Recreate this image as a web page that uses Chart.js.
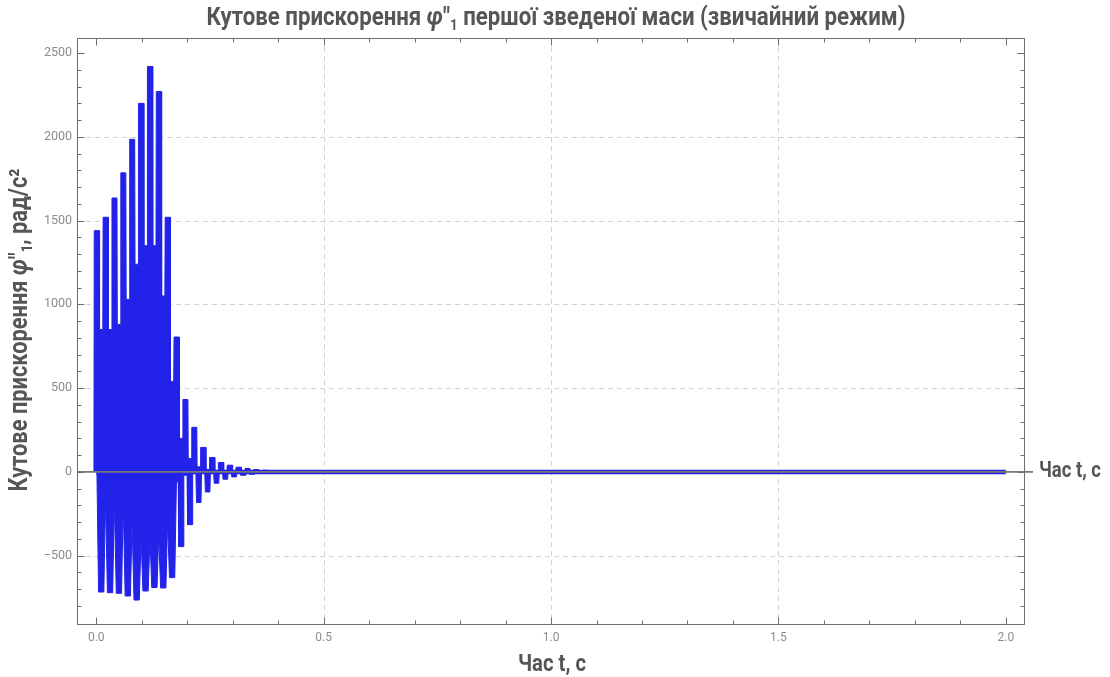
<!DOCTYPE html>
<html><head><meta charset="utf-8">
<script src="https://cdn.jsdelivr.net/npm/chart.js@4/dist/chart.umd.min.js"></script>
<style>html,body{margin:0;padding:0;background:#fff;}canvas{display:block;}</style>
</head><body>
<canvas id="c" width="1110" height="677"></canvas>
<script>
// ---- data ----
// upward bars (local maxima of the band), time in s, value in rad/s^2
const peakT = [0.001, 0.0205, 0.040, 0.0595, 0.079, 0.0985, 0.118, 0.1375, 0.157, 0.1765, 0.196, 0.2155, 0.235, 0.2545, 0.274, 0.2935, 0.313, 0.3325, 0.352, 0.3715, 0.391, 0.4105, 0.430];
const peakV = [1440, 1520, 1635, 1785, 1985, 2200, 2420, 2270, 1520, 805, 432, 266, 146, 86, 56, 40, 28, 20, 14, 10, 7, 5, 3];
// level where the white gap between neighbouring upward bars ends
const upperGapV = [850, 850, 880, 1030, 1240, 1350, 1350, 1050, 540, 200, 80, 30, 15, 8, 5, 3, 2, 1, 1, 0, 0, 0];
// downward bars (local minima of the band)
const troughT = [0.0108, 0.0303, 0.0498, 0.0693, 0.0888, 0.1083, 0.1278, 0.1473, 0.1668, 0.1863, 0.2058, 0.2253, 0.2448, 0.2643, 0.2838, 0.3033, 0.3228, 0.3423, 0.3618, 0.3813, 0.4008, 0.4203, 0.4398];
const troughV = [-717, -721, -725, -741, -765, -711, -690, -693, -631, -446, -315, -183, -120, -68, -44, -30, -20, -14, -10, -7, -5, -3, -2];
// level where the white gap between neighbouring downward bars ends
const lowerGapV = [-160, -170, -180, -300, -420, -420, -380, -300, -60, -20, -10, -5, -3, -2, -1, -1, 0, 0, 0, 0, 0, 0];
// settled part of the signal
const settledT = [0.0, 2.0];
const settledV = [0, 0];

// ticks
const xMajorTicks = [0, 0.5, 1.0, 1.5, 2.0];
const xTickLabels = ['0.0', '0.5', '1.0', '1.5', '2.0'];
const xMinorTicks = [0.1, 0.2, 0.3, 0.4, 0.6, 0.7, 0.8, 0.9, 1.1, 1.2, 1.3, 1.4, 1.6, 1.7, 1.8, 1.9];
const yMajorTicks = [-500, 0, 500, 1000, 1500, 2000, 2500];
const yTickLabels = ['\u2212500', '0', '500', '1000', '1500', '2000', '2500'];
const yMinorTicks = [-800, -700, -600, -400, -300, -200, -100, 100, 200, 300, 400, 600, 700, 800, 900, 1100, 1200, 1300, 1400, 1600, 1700, 1800, 1900, 2100, 2200, 2300, 2400];
const xGridLines = [0.5, 1.0, 1.5];
const yGridLines = [-500, 500, 1000, 1500, 2000];

const titleText = 'Кутове прискорення φ"₁ першої зведеної маси (звичайний режим)';
const yTitleText = 'Кутове прискорення φ"₁, рад/с²';
const xTitleText = 'Час t, с';

// ---- styling ----
const BLUE = '#2222e8';
const TEXT = '#565656';
const FRAME = '#6f6f6f';
const UT = 0.0055, UB = 0.0062;   // half widths of upward bars (top / base)
const LB = 0.0058, LT = 0.0094;   // half widths of downward bars (bottom / top)
const LOBE = 0.0062;              // half width of the small decaying lobes
const CONDENSE = 0.86;            // horizontal squeeze of the bold labels

function buildUpper() {
  const pts = [];
  const n = peakT.length;
  for (let k = 0; k < n; k++) {
    const gl = k === 0 ? 0 : upperGapV[k - 1];
    const gr = k === n - 1 ? 0 : upperGapV[k];
    pts.push({x: peakT[k] - UB, y: gl}, {x: peakT[k] - UT, y: peakV[k]},
             {x: peakT[k] + UT, y: peakV[k]}, {x: peakT[k] + UB, y: gr});
  }
  return pts;
}
function buildLower() {
  const pts = [];
  const n = troughT.length;
  for (let k = 0; k < n; k++) {
    const gl = k === 0 ? 0 : lowerGapV[k - 1];
    const gr = k === n - 1 ? 0 : lowerGapV[k];
    const top = troughV[k] < -500 ? LT : LOBE;
    const bot = troughV[k] < -500 ? LB : LOBE * 0.8;
    pts.push({x: troughT[k] - top, y: gl}, {x: troughT[k] - bot, y: troughV[k]},
             {x: troughT[k] + bot, y: troughV[k]}, {x: troughT[k] + top, y: gr});
  }
  return pts;
}

function splitRich(text) {
  const i = text.indexOf('φ');
  return [{t: text.slice(0, i), s: 'bold', k: 1, dy: 0},
          {t: 'φ', s: 'italic bold', k: 1, dy: 0},
          {t: '"', s: 'bold', k: 1, dy: 0},
          {t: '1', s: 'bold', k: 0.6, dy: 0.28},
          {t: text.slice(i + 3), s: 'bold', k: 1, dy: 0}];
}
function richWidth(ctx, segs, size) {
  let w = 0;
  segs.forEach(g => { ctx.font = g.s + ' ' + (size * g.k) + 'px Roboto'; w += ctx.measureText(g.t).width; });
  return w;
}
function drawRich(ctx, segs, cx, cy, targetW, rot, align) {
  const size = 20 * targetW / (richWidth(ctx, segs, 20) * CONDENSE);
  const w = richWidth(ctx, segs, size);
  ctx.save();
  ctx.translate(cx, cy);
  if (rot) ctx.rotate(rot);
  ctx.scale(CONDENSE, 1);
  ctx.fillStyle = TEXT;
  ctx.textBaseline = 'middle';
  ctx.textAlign = 'left';
  let xx = align === 'left' ? 0 : -w / 2;
  segs.forEach(g => {
    ctx.font = g.s + ' ' + (size * g.k) + 'px Roboto';
    ctx.fillText(g.t, xx, g.dy * size);
    xx += ctx.measureText(g.t).width;
  });
  ctx.restore();
}

const framePlugin = {
  id: 'frame',
  beforeDatasetsDraw(chart) {
    const {ctx, chartArea: a, scales: {x, y}} = chart;
    ctx.save();
    ctx.strokeStyle = '#d2d2d2';
    ctx.lineWidth = 1;
    ctx.setLineDash([5, 4]);
    xGridLines.forEach(v => {
      const px = Math.round(x.getPixelForValue(v)) + 0.5;
      ctx.beginPath(); ctx.moveTo(px, a.top); ctx.lineTo(px, a.bottom); ctx.stroke();
    });
    yGridLines.forEach(v => {
      const py = Math.round(y.getPixelForValue(v)) + 0.5;
      ctx.beginPath(); ctx.moveTo(a.left, py); ctx.lineTo(a.right, py); ctx.stroke();
    });
    ctx.restore();
  },
  afterDatasetsDraw(chart) {
    const {ctx, chartArea: a, scales: {x, y}} = chart;
    ctx.save();
    // zero axis
    const y0 = y.getPixelForValue(0);
    ctx.strokeStyle = '#777777';
    ctx.lineWidth = 1.6;
    ctx.beginPath(); ctx.moveTo(a.left, y0); ctx.lineTo(a.right + 9, y0); ctx.stroke();
    // frame
    ctx.strokeStyle = FRAME;
    ctx.lineWidth = 1;
    const L = Math.round(a.left) + 0.5, R = Math.round(a.right) + 0.5;
    const T = Math.round(a.top) + 0.5, B = Math.round(a.bottom) + 0.5;
    ctx.strokeRect(L, T, R - L, B - T);
    // ticks (inward, all four sides)
    const tick = (vals, len) => {
      vals.forEach(v => {
        const px = Math.round(x.getPixelForValue(v)) + 0.5;
        ctx.beginPath(); ctx.moveTo(px, B); ctx.lineTo(px, B - len); ctx.stroke();
        ctx.beginPath(); ctx.moveTo(px, T); ctx.lineTo(px, T + len); ctx.stroke();
      });
    };
    const ytick = (vals, len) => {
      vals.forEach(v => {
        const py = Math.round(y.getPixelForValue(v)) + 0.5;
        ctx.beginPath(); ctx.moveTo(L, py); ctx.lineTo(L + len, py); ctx.stroke();
        ctx.beginPath(); ctx.moveTo(R, py); ctx.lineTo(R - len, py); ctx.stroke();
      });
    };
    tick(xMajorTicks, 7); tick(xMinorTicks, 4);
    ytick(yMajorTicks, 7); ytick(yMinorTicks, 4);
    ctx.restore();
    // texts
    drawRich(ctx, splitRich(titleText), 556, 19, 699, 0);
    drawRich(ctx, splitRich(yTitleText), 21, 330, 323, -Math.PI / 2);
    drawRich(ctx, [{t: xTitleText, s: 'bold', k: 1, dy: 0}], 552, 665, 68, 0);
    drawRich(ctx, [{t: xTitleText, s: 'bold', k: 1, dy: 0}], 1039, y0, 62, 0, 'left');
  }
};

new Chart(document.getElementById('c'), {
  type: 'line',
  data: {
    datasets: [
      {data: buildUpper(), fill: 'origin', backgroundColor: BLUE, borderColor: BLUE, borderWidth: 1, pointRadius: 0, tension: 0},
      {data: buildLower(), fill: 'origin', backgroundColor: BLUE, borderColor: BLUE, borderWidth: 1, pointRadius: 0, tension: 0},
      {data: settledT.map((t, i) => ({x: t, y: settledV[i]})), fill: false, borderColor: BLUE, borderWidth: 4.5, pointRadius: 0, borderCapStyle: 'butt'}
    ]
  },
  options: {
    responsive: false,
    animation: false,
    devicePixelRatio: 1,
    layout: {padding: {top: 38, right: 86, bottom: 0, left: 0}},
    plugins: {legend: {display: false}, tooltip: {enabled: false}, title: {display: false}},
    scales: {
      x: {
        type: 'linear', min: -0.0424, max: 2.040,
        grid: {display: false, drawTicks: false}, border: {display: false},
        afterBuildTicks: s => { s.ticks = xMajorTicks.map(v => ({value: v})); },
        afterFit: s => { s.height = 53; },
        ticks: {padding: 7, color: '#8c8c8c', font: {family: 'Roboto', size: 12},
                maxRotation: 0, autoSkip: false,
                callback: (v) => xTickLabels[xMajorTicks.indexOf(v)]}
      },
      y: {
        type: 'linear', min: -908, max: 2590,
        grid: {display: false, drawTicks: false}, border: {display: false},
        afterBuildTicks: s => { s.ticks = yMajorTicks.map(v => ({value: v})); },
        afterFit: s => { s.width = 77; },
        ticks: {padding: 5, color: '#8c8c8c', font: {family: 'Roboto', size: 12.5}, autoSkip: false,
                callback: (v) => yTickLabels[yMajorTicks.indexOf(v)]}
      }
    }
  },
  plugins: [framePlugin]
});
</script>
</body></html>
